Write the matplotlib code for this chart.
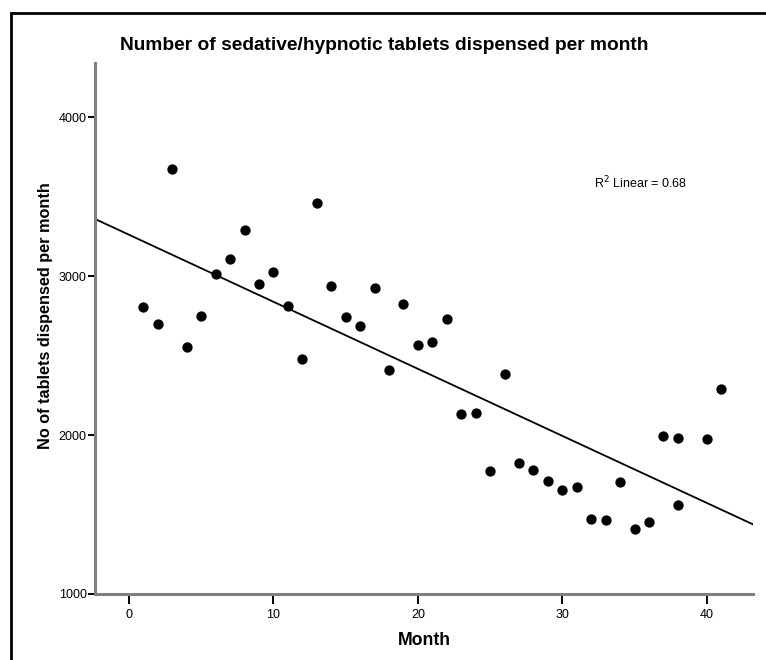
import numpy as np
import matplotlib
matplotlib.use("Agg")
import matplotlib.pyplot as plt
from matplotlib.patches import Rectangle

plt.rcParams["font.family"] = ["Liberation Sans", "DejaVu Sans"]

# data
months = [1, 2, 3, 4, 5, 6, 7, 8, 9, 10, 11, 12, 13, 14, 15, 16, 17, 18, 19, 20,
          21, 22, 23, 24, 25, 26, 27, 28, 29, 30, 31, 32, 33, 34, 35, 36, 37, 38, 38, 40, 41]
tablets = [2807, 2700, 3675, 2555, 2746, 3013, 3105, 3287, 2952, 3027, 2813, 2478, 3457, 2935,
           2740, 2688, 2925, 2411, 2826, 2568, 2585, 2732, 2134, 2138, 1776, 2382, 1824, 1780,
           1713, 1654, 1673, 1470, 1465, 1702, 1407, 1451, 1992, 1981, 1558, 1973, 2287]
x_ticks = [0, 10, 20, 30, 40]
y_ticks = [1000, 2000, 3000, 4000]
r2_text = "R$^2$ Linear = 0.68"

W, H = 766, 660
fig = plt.figure(figsize=(W / 100, H / 100), dpi=100)
fig.patch.set_facecolor("white")

# outer frame (cropped at right and bottom)
fig.patches.append(Rectangle((11 / W, -0.1), 1.2, 1 - 13 / H + 0.1, transform=fig.transFigure,
                             fill=False, edgecolor="black", linewidth=2))

ax = fig.add_axes([95 / W, 1 - 594 / H, (753 - 95) / W, (594 - 63) / H])
ax.set_xlim(-2.35, 43.2)
ax.set_ylim(1000, 4340)

ax.scatter(months, tablets, s=55, color="black", zorder=3, linewidths=0)

slope, intercept = np.polyfit(months, tablets, 1)
xs = np.array(ax.get_xlim())
ax.plot(xs, intercept + slope * xs, color="black", linewidth=1.3, zorder=2)

ax.text(32.2, 3585, r2_text, fontsize=9, ha="left", va="center")

for side in ["top", "right"]:
    ax.spines[side].set_visible(False)
for side in ["left", "bottom"]:
    ax.spines[side].set_color("#808080")
    ax.spines[side].set_linewidth(2.2)

ax.set_xticks(x_ticks)
ax.set_yticks(y_ticks)
ax.tick_params(axis="both", direction="out", colors="black", width=1.4, labelsize=9)
ax.tick_params(axis="x", length=7, pad=4)
ax.tick_params(axis="y", length=5, pad=1)

ax.set_xlabel("Month", fontsize=12.7, fontweight="bold", labelpad=8)
ax.set_ylabel("No of tablets dispensed per month", fontsize=11.7, fontweight="bold")
ax.yaxis.set_label_coords(-0.0645, 0.525)

fig.text(0.502, 1 - 45 / H, "Number of sedative/hypnotic tablets dispensed per month",
         fontsize=13.8, fontweight="bold", ha="center", va="center")

fig.savefig("out.png", dpi=100, facecolor="white")
plt.close(fig)
